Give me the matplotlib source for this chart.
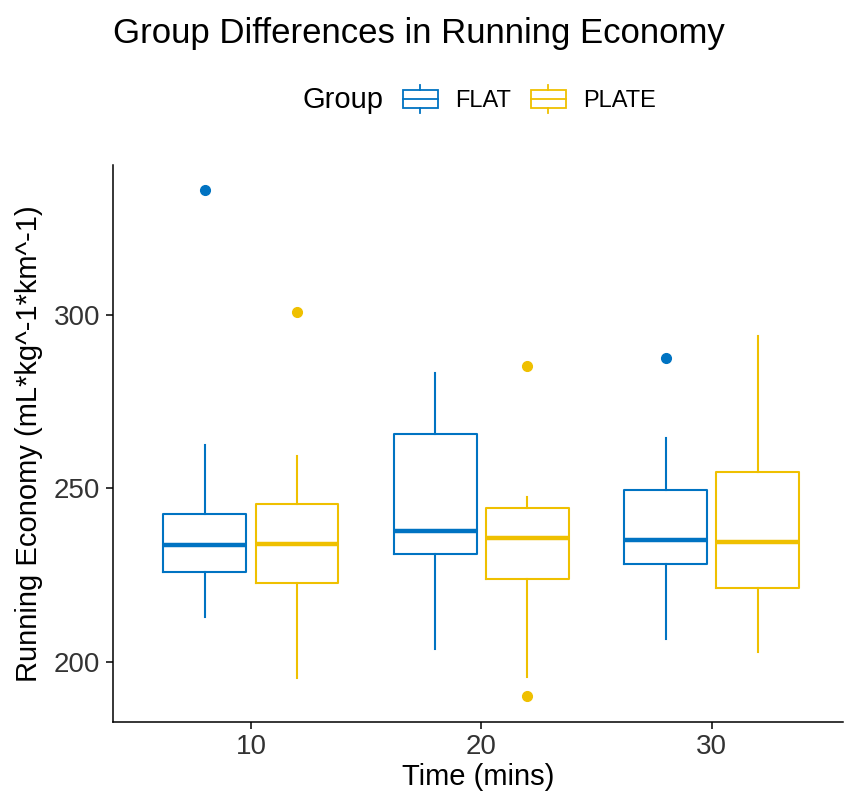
import matplotlib
matplotlib.use("Agg")
import matplotlib.pyplot as plt
from matplotlib.legend_handler import HandlerBase
from matplotlib.patches import Rectangle
from matplotlib.lines import Line2D

plt.rcParams["font.family"] = ["Liberation Sans", "DejaVu Sans"]

# data
times = [10, 20, 30]
groups = ["FLAT", "PLATE"]
colors = {"FLAT": "#0073C2", "PLATE": "#EFC000"}

flat_whislo = [213.0, 203.6, 206.7]
flat_q1 = [225.8, 231.0, 228.2]
flat_med = [233.7, 237.8, 235.1]
flat_q3 = [242.7, 265.6, 249.4]
flat_whishi = [262.5, 283.2, 264.6]
flat_fliers = [[336.1], [], [287.5]]

plate_whislo = [195.2, 195.7, 202.9]
plate_q1 = [222.6, 224.0, 221.3]
plate_med = [234.0, 235.8, 234.6]
plate_q3 = [245.5, 244.4, 254.6]
plate_whishi = [259.3, 247.6, 294.0]
plate_fliers = [[301.0], [190.1, 285.4], []]

series = {
    "FLAT": (flat_whislo, flat_q1, flat_med, flat_q3, flat_whishi, flat_fliers),
    "PLATE": (plate_whislo, plate_q1, plate_med, plate_q3, plate_whishi, plate_fliers),
}

fig = plt.figure(figsize=(8.45, 7.95), dpi=100)
ax = fig.add_axes([112.7 / 845, 73.3 / 795, 730.3 / 845, 556.7 / 795])

dodge = 2.0
box_w = 3.6
for gi, g in enumerate(groups):
    lo, q1, med, q3, hi, fl = series[g]
    stats = []
    for i in range(len(times)):
        stats.append(dict(whislo=lo[i], q1=q1[i], med=med[i], q3=q3[i],
                          whishi=hi[i], fliers=fl[i]))
    pos = [t + (dodge if gi else -dodge) for t in times]
    c = colors[g]
    ax.bxp(stats, positions=pos, widths=box_w, showcaps=False, patch_artist=False,
           manage_ticks=False,
           boxprops=dict(color=c, linewidth=1.5),
           whiskerprops=dict(color=c, linewidth=1.5),
           medianprops=dict(color=c, linewidth=3.2, solid_capstyle="butt"),
           flierprops=dict(marker="o", markerfacecolor=c, markeredgecolor=c,
                           markersize=7))

ax.set_xlim(4.0, 35.7)
ax.set_ylim(182.7, 343.3)
ax.set_xticks(times)
ax.set_yticks([200, 250, 300])
ax.spines["top"].set_visible(False)
ax.spines["right"].set_visible(False)
for s in ["left", "bottom"]:
    ax.spines[s].set_linewidth(1.1)
ax.tick_params(length=5, width=1.1, labelsize=20, labelcolor="#333333", pad=4)
ax.set_xlabel("Time (mins)", fontsize=21, labelpad=2)
ax.set_ylabel("Running Economy (mL*kg^-1*km^-1)", fontsize=21, labelpad=8)

fig.text(113 / 845, 1 - 33 / 795, "Group Differences in Running Economy",
         fontsize=25, ha="left", va="center")


class BoxHandler(HandlerBase):
    def create_artists(self, legend, orig_handle, xdescent, ydescent,
                       width, height, fontsize, trans):
        c = orig_handle.get_color()
        bw = width * 0.9
        x0 = xdescent + (width - bw) / 2
        cx = xdescent + width / 2
        rect = Rectangle((x0, -ydescent + height * 0.1), bw, height * 0.8,
                         fill=False, edgecolor=c, linewidth=1.3, transform=trans)
        mid = Line2D([x0, x0 + bw], [-ydescent + height * 0.5] * 2,
                     color=c, linewidth=1.3, transform=trans)
        top = Line2D([cx, cx], [-ydescent + height * 0.9, -ydescent + height * 1.15],
                     color=c, linewidth=1.3, transform=trans)
        bot = Line2D([cx, cx], [-ydescent - height * 0.15, -ydescent + height * 0.1],
                     color=c, linewidth=1.3, transform=trans)
        return [rect, mid, top, bot]


handles = [Line2D([], [], color=colors[g]) for g in groups]
fig.text(303 / 845, 1 - 100 / 795, "Group", fontsize=21, ha="left", va="center")
fig.legend(handles, groups, handler_map={Line2D: BoxHandler()}, ncol=2,
           loc="center left", bbox_to_anchor=(401 / 845, 1 - 100 / 795),
           frameon=False, fontsize=17, handlelength=1.65, handleheight=1.05,
           handletextpad=0.64, columnspacing=0.76, borderpad=0, borderaxespad=0)

fig.savefig("out.png", dpi=100)
